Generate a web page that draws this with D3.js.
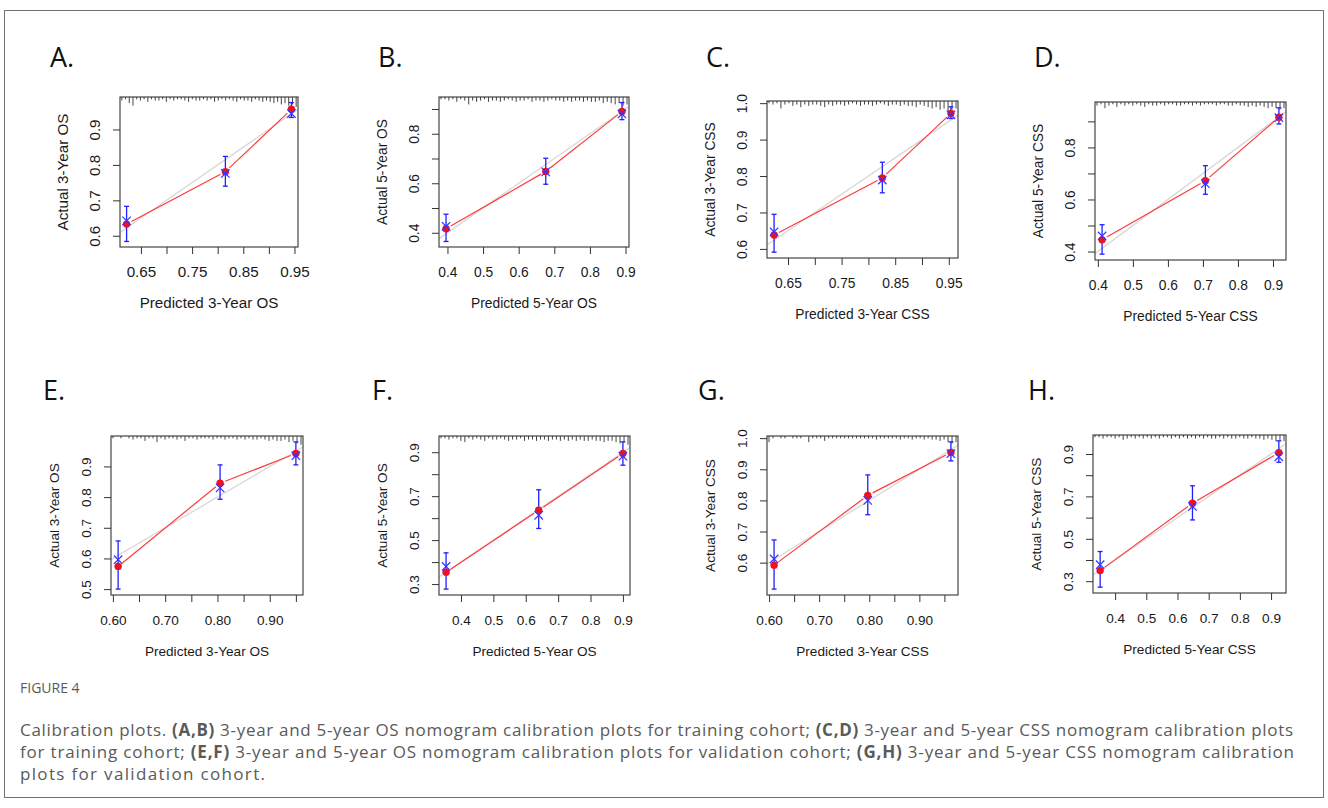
<!DOCTYPE html>
<html>
<head>
<meta charset="utf-8">
<script src="https://cdn.jsdelivr.net/npm/d3@7"></script>
<style>
body { margin: 0; background: #fff; }
svg { display: block; }
</style>
</head>
<body>
<svg width="1328" height="808"></svg>
<script>
// values, one entry per panel A..H
var panelLetters = ["A", "B", "C", "D", "E", "F", "G", "H"];
var xTitles = ["Predicted 3-Year OS", "Predicted 5-Year OS", "Predicted 3-Year CSS", "Predicted 5-Year CSS",
               "Predicted 3-Year OS", "Predicted 5-Year OS", "Predicted 3-Year CSS", "Predicted 5-Year CSS"];
var yTitles = ["Actual 3-Year OS", "Actual 5-Year OS", "Actual 3-Year CSS", "Actual 5-Year CSS",
               "Actual 3-Year OS", "Actual 5-Year OS", "Actual 3-Year CSS", "Actual 5-Year CSS"];

var predicted = [
  [0.622, 0.815, 0.944],
  [0.396, 0.676, 0.890],
  [0.624, 0.826, 0.954],
  [0.412, 0.707, 0.917],
  [0.610, 0.805, 0.950],
  [0.354, 0.640, 0.900],
  [0.610, 0.797, 0.963],
  [0.352, 0.648, 0.925]
];
var observed = [
  [0.633, 0.781, 0.957],
  [0.416, 0.648, 0.890],
  [0.638, 0.795, 0.972],
  [0.445, 0.672, 0.916],
  [0.574, 0.845, 0.942],
  [0.354, 0.636, 0.894],
  [0.592, 0.816, 0.954],
  [0.350, 0.668, 0.906]
];
var corrected = [
  [0.642, 0.776, 0.945],
  [0.426, 0.646, 0.880],
  [0.647, 0.789, 0.968],
  [0.460, 0.661, 0.914],
  [0.596, 0.830, 0.935],
  [0.380, 0.613, 0.882],
  [0.612, 0.800, 0.950],
  [0.378, 0.653, 0.887]
];
var ciLow = [
  [0.584, 0.740, 0.934],
  [0.365, 0.596, 0.857],
  [0.591, 0.754, 0.958],
  [0.390, 0.620, 0.890],
  [0.500, 0.793, 0.905],
  [0.277, 0.553, 0.841],
  [0.515, 0.754, 0.927],
  [0.272, 0.589, 0.861]
];
var ciHigh = [
  [0.683, 0.824, 0.976],
  [0.475, 0.701, 0.926],
  [0.695, 0.838, 0.990],
  [0.503, 0.730, 0.952],
  [0.657, 0.905, 0.980],
  [0.442, 0.729, 0.947],
  [0.673, 0.882, 0.988],
  [0.440, 0.750, 0.962]
];

var xTicks = [
  [0.65, 0.70, 0.75, 0.80, 0.85, 0.90, 0.95],
  [0.4, 0.5, 0.6, 0.7, 0.8, 0.9],
  [0.65, 0.70, 0.75, 0.80, 0.85, 0.90, 0.95],
  [0.4, 0.5, 0.6, 0.7, 0.8, 0.9],
  [0.60, 0.65, 0.70, 0.75, 0.80, 0.85, 0.90, 0.95],
  [0.4, 0.5, 0.6, 0.7, 0.8, 0.9],
  [0.60, 0.65, 0.70, 0.75, 0.80, 0.85, 0.90, 0.95],
  [0.4, 0.5, 0.6, 0.7, 0.8, 0.9]
];
var xTickLabels = [
  ["0.65", "0.75", "0.85", "0.95"],
  ["0.4", "0.5", "0.6", "0.7", "0.8", "0.9"],
  ["0.65", "0.75", "0.85", "0.95"],
  ["0.4", "0.5", "0.6", "0.7", "0.8", "0.9"],
  ["0.60", "0.70", "0.80", "0.90"],
  ["0.4", "0.5", "0.6", "0.7", "0.8", "0.9"],
  ["0.60", "0.70", "0.80", "0.90"],
  ["0.4", "0.5", "0.6", "0.7", "0.8", "0.9"]
];
var yTicks = [
  [0.6, 0.7, 0.8, 0.9],
  [0.4, 0.5, 0.6, 0.7, 0.8, 0.9],
  [0.6, 0.7, 0.8, 0.9, 1.0],
  [0.4, 0.5, 0.6, 0.7, 0.8, 0.9],
  [0.5, 0.6, 0.7, 0.8, 0.9],
  [0.3, 0.4, 0.5, 0.6, 0.7, 0.8, 0.9],
  [0.6, 0.7, 0.8, 0.9, 1.0],
  [0.3, 0.4, 0.5, 0.6, 0.7, 0.8, 0.9]
];
var yTickLabels = [
  ["0.6", "0.7", "0.8", "0.9"],
  ["0.4", "0.6", "0.8"],
  ["0.6", "0.7", "0.8", "0.9", "1.0"],
  ["0.4", "0.6", "0.8"],
  ["0.5", "0.6", "0.7", "0.8", "0.9"],
  ["0.3", "0.5", "0.7", "0.9"],
  ["0.6", "0.7", "0.8", "0.9", "1.0"],
  ["0.3", "0.5", "0.7", "0.9"]
];

// frequency spikes along the top edge (distribution of predicted values), left to right
var rugCounts = [
  [2,1,4,6,1,2,1,3,1,2,2,1,3,1,2,1,1,2,3,1,2,2,1,2,1,3,2,1,2,1,2,3,1,2,2,3,1,2,3,2,3,4,3,5,4,6,5,7],
  [1,1,2,1,3,1,2,5,2,3,2,1,3,2,2,3,2,1,2,3,2,2,1,3,2,2,3,2,1,2,2,3,2,3,2,2,3,2,3,3,2,4,3,4,5,4,6,5],
  [1,2,1,5,2,1,3,2,4,2,3,2,2,3,4,2,3,2,2,3,2,1,2,3,2,2,3,2,1,2,3,2,2,3,2,3,3,4,2,3,4,5,4,6,5,7,6,5],
  [2,1,4,2,1,3,1,2,1,2,1,2,3,1,2,2,1,2,1,1,2,2,1,1,2,1,2,1,1,1,2,1,1,2,2,1,2,2,3,2,3,2,3,4,3,4,5,4],
  [1,0,1,0,1,2,1,1,3,1,1,4,1,2,1,1,2,1,3,1,1,2,1,1,1,2,1,1,2,1,1,2,1,2,1,2,2,1,2,3,2,3,3,2,4,3,5,6],
  [1,1,2,1,1,3,4,1,2,1,2,3,1,2,2,1,2,3,2,2,1,3,2,2,3,2,2,3,2,2,3,2,3,2,3,2,3,3,2,3,3,4,3,3,4,5,4,6],
  [4,1,0,1,1,0,1,1,1,0,4,1,1,1,3,1,1,1,1,1,1,1,1,1,1,1,1,2,1,1,1,1,1,2,1,1,2,1,1,2,1,2,2,3,2,4,5,4],
  [1,1,2,1,1,2,1,3,2,1,2,1,2,1,2,1,2,1,1,2,1,2,1,2,1,2,1,2,1,2,2,1,2,1,2,2,1,2,2,1,2,2,3,2,3,4,3,4]
];

var captionLines = [
  [["Calibration plots. ", false], ["(A,B)", true], [" 3-year and 5-year OS nomogram calibration plots for training cohort; ", false],
   ["(C,D)", true], [" 3-year and 5-year CSS nomogram calibration plots", false]],
  [["for training cohort; ", false], ["(E,F)", true], [" 3-year and 5-year OS nomogram calibration plots for validation cohort; ", false],
   ["(G,H)", true], [" 3-year and 5-year CSS nomogram calibration", false]],
  [["plots for validation cohort.", false]]
];
var captionWidths = [1273, 1274, 245];

// plot boxes on the page (each sub-image is scaled a little differently)
var layout = [
  {x: 120, y: 97,  w: 178, h: 150, lx: 50,   ly: 67,  fs: 15.2},
  {x: 439, y: 97,  w: 190, h: 150, lx: 378,  ly: 67,  fs: 13.8},
  {x: 767, y: 101, w: 191, h: 157, lx: 706,  ly: 67,  fs: 13.8},
  {x: 1095, y: 102, w: 191, h: 158, lx: 1034, ly: 67,  fs: 13.8},
  {x: 111, y: 436, w: 192, h: 159, lx: 43,   ly: 400, fs: 13.6},
  {x: 439, y: 436, w: 191, h: 159, lx: 372,  ly: 400, fs: 13.6},
  {x: 767, y: 436, w: 191, h: 159, lx: 698,  ly: 400, fs: 13.6},
  {x: 1093, y: 435, w: 193, h: 158, lx: 1028, ly: 400, fs: 13.6}
];

var svg = d3.select("svg");
var fontR = "'Liberation Sans', Arial, sans-serif";
var fontCap = "'Open Sans', 'Noto Sans', sans-serif";

svg.append("rect")
  .attr("x", 4.5).attr("y", 10.5)
  .attr("width", 1319).attr("height", 787)
  .attr("fill", "none").attr("stroke", "#707070");

panelLetters.forEach(function(letter, i) {
  var box = layout[i];
  var fs = box.fs;

  svg.append("text")
    .attr("x", box.lx).attr("y", box.ly)
    .attr("font-family", fontCap)
    .attr("font-size", 27)
    .attr("fill", "#111")
    .text(letter + ".");

  var g = svg.append("g").attr("transform", "translate(" + box.x + "," + box.y + ")");

  var xExt = d3.extent(predicted[i]);
  var yExt = d3.extent(observed[i].concat(corrected[i], ciLow[i], ciHigh[i]));
  var xPad = (xExt[1] - xExt[0]) * 0.04, yPad = (yExt[1] - yExt[0]) * 0.04;
  var x = d3.scaleLinear().domain([xExt[0] - xPad, xExt[1] + xPad]).range([0, box.w]);
  var y = d3.scaleLinear().domain([yExt[0] - yPad, yExt[1] + yPad]).range([box.h, 0]);

  var clipId = "clip" + i;
  g.append("clipPath").attr("id", clipId)
    .append("rect").attr("width", box.w).attr("height", box.h);

  // ideal line
  var d0 = Math.min(x.domain()[0], y.domain()[0]), d1 = Math.max(x.domain()[1], y.domain()[1]);
  g.append("line")
    .attr("clip-path", "url(#" + clipId + ")")
    .attr("x1", x(d0)).attr("y1", y(d0))
    .attr("x2", x(d1)).attr("y2", y(d1))
    .attr("stroke", "#d8d8d8").attr("stroke-width", 1.3);

  // rug along the top
  var nb = rugCounts[i].length;
  var bw = (x.domain()[1] - x.domain()[0]) / nb;
  var spike = d3.scaleLinear().domain([0, 7]).range([0, 9]);
  g.selectAll(".rug")
    .data(rugCounts[i])
    .enter().append("line")
    .attr("x1", function(d, j) { return x(x.domain()[0] + (j + 0.5) * bw); })
    .attr("x2", function(d, j) { return x(x.domain()[0] + (j + 0.5) * bw); })
    .attr("y1", 0)
    .attr("y2", function(d) { return d > 0 ? spike(d) + 1 : 0; })
    .attr("stroke", "#444").attr("stroke-width", 1);

  // observed line, broken around the points
  var pts = predicted[i].map(function(p, j) { return [x(p), y(observed[i][j])]; });
  var gap = 5.5;
  for (var j = 0; j < pts.length - 1; j++) {
    var a = pts[j], b = pts[j + 1];
    var dx = b[0] - a[0], dy = b[1] - a[1];
    var len = Math.sqrt(dx * dx + dy * dy);
    var ux = dx / len, uy = dy / len;
    g.append("line")
      .attr("x1", a[0] + ux * gap).attr("y1", a[1] + uy * gap)
      .attr("x2", b[0] - ux * gap).attr("y2", b[1] - uy * gap)
      .attr("stroke", "#ff3a3a").attr("stroke-width", 1.2);
  }

  // error bars
  var bars = g.selectAll(".bar")
    .data(predicted[i])
    .enter().append("g")
    .attr("stroke", "#1f1fff").attr("stroke-width", 1.3);
  bars.append("line")
    .attr("x1", function(d) { return x(d); }).attr("x2", function(d) { return x(d); })
    .attr("y1", function(d, j) { return y(ciLow[i][j]); })
    .attr("y2", function(d, j) { return y(ciHigh[i][j]); });
  bars.append("line")
    .attr("x1", function(d) { return x(d) - 2.5; }).attr("x2", function(d) { return x(d) + 2.5; })
    .attr("y1", function(d, j) { return y(ciLow[i][j]); })
    .attr("y2", function(d, j) { return y(ciLow[i][j]); });
  bars.append("line")
    .attr("x1", function(d) { return x(d) - 2.5; }).attr("x2", function(d) { return x(d) + 2.5; })
    .attr("y1", function(d, j) { return y(ciHigh[i][j]); })
    .attr("y2", function(d, j) { return y(ciHigh[i][j]); });

  // observed points
  g.selectAll(".pt")
    .data(predicted[i])
    .enter().append("circle")
    .attr("cx", function(d) { return x(d); })
    .attr("cy", function(d, j) { return y(observed[i][j]); })
    .attr("r", 3.7)
    .attr("fill", "#ee1122");

  // bias-corrected crosses
  var cr = 4.2;
  g.selectAll(".cx")
    .data(predicted[i])
    .enter().append("path")
    .attr("d", function(d, j) {
      var cx = x(d), cy = y(corrected[i][j]);
      return "M" + (cx - cr) + "," + (cy - cr) + "L" + (cx + cr) + "," + (cy + cr) +
             "M" + (cx - cr) + "," + (cy + cr) + "L" + (cx + cr) + "," + (cy - cr);
    })
    .attr("stroke", "#3333ff").attr("stroke-width", 1.2).attr("fill", "none");

  // box
  g.append("rect")
    .attr("width", box.w).attr("height", box.h)
    .attr("fill", "none").attr("stroke", "#333").attr("stroke-width", 1.1);

  // axes
  var xAxis = d3.axisBottom(x)
    .tickValues(xTicks[i])
    .tickSize(7)
    .tickFormat(function(d) {
      var s = xTickLabels[i][0].length === 4 ? d3.format(".2f")(d) : d3.format(".1f")(d);
      return xTickLabels[i].indexOf(s) >= 0 ? s : "";
    });
  var gx = g.append("g").attr("transform", "translate(0," + box.h + ")").call(xAxis);
  gx.select(".domain").remove();
  gx.selectAll("line").attr("stroke", "#333");
  gx.selectAll("text")
    .attr("y", 30).attr("dy", null)
    .attr("font-family", fontR).attr("font-size", fs).attr("fill", "#1a1a1a");

  var yAxis = d3.axisLeft(y)
    .tickValues(yTicks[i])
    .tickSize(7)
    .tickFormat(function(d) {
      var s = d3.format(".1f")(d);
      return yTickLabels[i].indexOf(s) >= 0 ? s : "";
    });
  var gy = g.append("g").call(yAxis);
  gy.select(".domain").remove();
  gy.selectAll("line").attr("stroke", "#333");
  gy.selectAll("text")
    .attr("transform", "rotate(-90)")
    .attr("x", 0).attr("y", -20.5).attr("dy", null)
    .attr("text-anchor", "middle")
    .attr("font-family", fontR).attr("font-size", fs).attr("fill", "#1a1a1a");

  g.append("text")
    .attr("x", box.w / 2).attr("y", box.h + 61)
    .attr("text-anchor", "middle")
    .attr("font-family", fontR).attr("font-size", fs).attr("fill", "#1a1a1a")
    .text(xTitles[i]);
  g.append("text")
    .attr("transform", "rotate(-90)")
    .attr("x", -box.h / 2).attr("y", -52)
    .attr("text-anchor", "middle")
    .attr("font-family", fontR).attr("font-size", fs).attr("fill", "#1a1a1a")
    .text(yTitles[i]);
});

// caption
svg.append("text")
  .attr("x", 20).attr("y", 693)
  .attr("font-family", fontCap).attr("font-size", 14)
  .attr("fill", "#5a5a5a")
  .text("FIGURE 4");

captionLines.forEach(function(line, k) {
  var t = svg.append("text")
    .attr("x", 20).attr("y", 736 + k * 22)
    .attr("font-family", fontCap).attr("font-size", 17)
    .attr("textLength", captionWidths[k])
    .attr("lengthAdjust", "spacing")
    .attr("fill", "#5a5a5a");
  line.forEach(function(part) {
    t.append("tspan")
      .attr("font-weight", part[1] ? 700 : 400)
      .text(part[0]);
  });
});
</script>
</body>
</html>
